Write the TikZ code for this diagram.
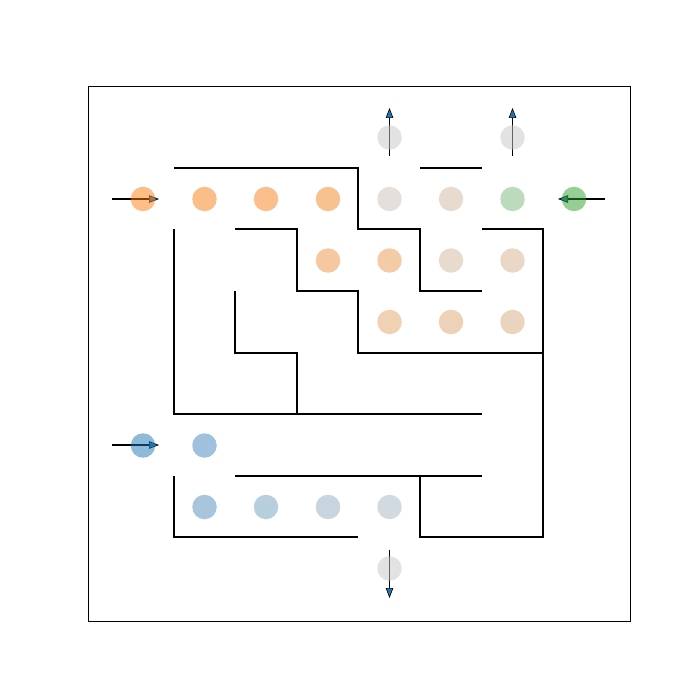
\documentclass[tikz,border=0pt]{standalone}
\usetikzlibrary{arrows.meta}
\definecolor{cgrey}{HTML}{C7C7C7}
\definecolor{o1}{HTML}{FF7F0E}
\definecolor{o2}{HTML}{FB7F15}
\definecolor{o3}{HTML}{F7811D}
\definecolor{o4}{HTML}{F38723}
\definecolor{o5}{HTML}{CBC1B9}
\definecolor{o6}{HTML}{D1B9A1}
\definecolor{g1}{HTML}{7BB97B}
\definecolor{g2}{HTML}{2CA02C}
\definecolor{p1}{HTML}{EF9341}
\definecolor{p2}{HTML}{E9994B}
\definecolor{p3}{HTML}{D3B99F}
\definecolor{p4}{HTML}{D7B18D}
\definecolor{q1}{HTML}{E3A569}
\definecolor{q2}{HTML}{DFA771}
\definecolor{q3}{HTML}{D9AB7F}
\definecolor{b1}{HTML}{1F77B4}
\definecolor{b2}{HTML}{4185BD}
\definecolor{b3}{HTML}{538DBB}
\definecolor{b4}{HTML}{719FBF}
\definecolor{b5}{HTML}{91ADC5}
\definecolor{b6}{HTML}{A7B7C5}
\definecolor{tipblue}{HTML}{1F77B4}
\tikzset{
  dot/.style={circle, minimum size=24.5pt, inner sep=0pt, draw=none, fill opacity=0.5},
  wall/.style={line width=1.9pt, black, line join=miter, line cap=butt},
  frame/.style={line width=1pt, black},
  mv/.style={line width=1.3pt, black, -{Triangle[length=10pt,width=7.5pt,fill=tipblue,line width=0.6pt]}}
}
\begin{document}
\begin{tikzpicture}[x=1pt,y=-1pt]
\useasboundingbox (0,0) rectangle (700,700);
\fill[white] (0,0) rectangle (700,700);
\draw[frame] (88.5,86.5) rectangle (630.5,621.5);
% walls
\draw[wall] (174,168) -- (358,168) -- (358,229) -- (420,229) -- (420,291) -- (482,291);
\draw[wall] (420,168) -- (482,168);
\draw[wall] (174,229) -- (174,414) -- (482,414);
\draw[wall] (235,229) -- (297,229) -- (297,291) -- (358,291) -- (358,353) -- (543,353);
\draw[wall] (482,229) -- (543,229) -- (543,537) -- (420,537) -- (420,476);
\draw[wall] (235,476) -- (482,476);
\draw[wall] (235,291) -- (235,353) -- (297,353) -- (297,414);
\draw[wall] (174,476) -- (174,537) -- (358,537);
% arrow end points
\coordinate (a1s) at (112,199); \coordinate (a1e) at (159,199);
\coordinate (a2s) at (605,199); \coordinate (a2e) at (558,199);
\coordinate (a3s) at (112,445); \coordinate (a3e) at (159,445);
\coordinate (a4s) at (389.5,156); \coordinate (a4e) at (389.5,108);
\coordinate (a5s) at (512.5,156); \coordinate (a5e) at (512.5,108);
\coordinate (a6s) at (389.5,550); \coordinate (a6e) at (389.5,598);
\draw[mv] (a1s) -- (a1e);
\draw[mv] (a2s) -- (a2e);
\draw[mv] (a3s) -- (a3e);
\draw[mv] (a4s) -- (a4e);
\draw[mv] (a5s) -- (a5e);
\draw[mv] (a6s) -- (a6e);
% circles
\node[dot, fill=cgrey] (t1) at (389.5,137.5) {};
\node[dot, fill=cgrey] (t2) at (512.5,137.5) {};
\node[dot, fill=o1] (r1c0) at (143,199) {};
\node[dot, fill=o2] (r1c1) at (204.5,199) {};
\node[dot, fill=o3] (r1c2) at (266,199) {};
\node[dot, fill=o4] (r1c3) at (328,199) {};
\node[dot, fill=o5] (r1c4) at (389.5,199) {};
\node[dot, fill=o6] (r1c5) at (451,199) {};
\node[dot, fill=g1] (r1c6) at (512.5,199) {};
\node[dot, fill=g2] (r1c7) at (574,199) {};
\node[dot, fill=p1] (r2c3) at (328,260.5) {};
\node[dot, fill=p2] (r2c4) at (389.5,260.5) {};
\node[dot, fill=p3] (r2c5) at (451,260.5) {};
\node[dot, fill=p4] (r2c6) at (512.5,260.5) {};
\node[dot, fill=q1] (r3c4) at (389.5,322) {};
\node[dot, fill=q2] (r3c5) at (451,322) {};
\node[dot, fill=q3] (r3c6) at (512.5,322) {};
\node[dot, fill=b1] (r5c0) at (143,445.5) {};
\node[dot, fill=b2] (r5c1) at (204.5,445.5) {};
\node[dot, fill=b3] (r6c1) at (204.5,507) {};
\node[dot, fill=b4] (r6c2) at (266,507) {};
\node[dot, fill=b5] (r6c3) at (328,507) {};
\node[dot, fill=b6] (r6c4) at (389.5,507) {};
\node[dot, fill=cgrey] (d1) at (389.5,568.5) {};
\end{tikzpicture}
\end{document}
